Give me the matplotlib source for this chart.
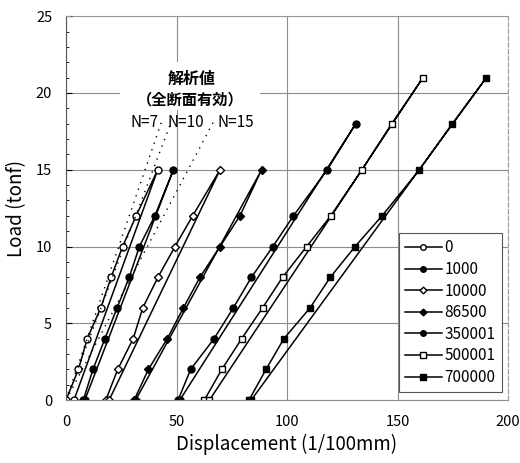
import numpy as np
import matplotlib.pyplot as plt
from matplotlib.patches import Rectangle

plt.rcParams['font.family'] = ['Noto Sans CJK JP', 'DejaVu Sans']

# load steps (tonf)
load_15 = [0, 2, 4, 6, 8, 10, 12, 15]
load_18 = [0, 2, 4, 6, 8, 10, 12, 15, 18]
load_21 = [0, 2, 4, 6, 8, 10, 12, 15, 18, 21]

# displacement on loading (1/100mm) and residual after unloading
disp_0 = [0, 5.6, 9.6, 15.7, 20.4, 25.6, 31.7, 41.5]
disp_1000 = [7.8, 12.2, 17.6, 23.1, 28.6, 33.2, 40.2, 48.6]
disp_10000 = [18.0, 23.4, 30.4, 34.7, 41.6, 49.3, 57.3, 69.7]
disp_86500 = [30.8, 37.3, 45.8, 53.1, 60.6, 69.7, 78.7, 88.5]
disp_350001 = [50.7, 56.4, 67.0, 75.7, 83.9, 93.6, 102.9, 118.2, 131.1]
disp_500001 = [62.6, 70.5, 79.5, 88.9, 98.0, 108.9, 119.8, 133.9, 147.4, 161.5]
disp_700000 = [82.8, 90.5, 98.6, 110.4, 119.6, 130.8, 143.0, 159.9, 174.8, 190.2]
residual = [3.6, 8.5, 19.5, 31.5, 51.5, 64.9, 83.8]

cycles = ['0', '1000', '10000', '86500', '350001', '500001', '700000']

# analytical stiffness lines (full section effective)
n_labels = ['N=7', 'N=10', 'N=15']
n_disp_top = [43.4, 47.8, 67.0]
n_load_top = 18.2

series = [
    (disp_0, load_15, 'o', 'white'),
    (disp_1000, load_15, 'o', 'black'),
    (disp_10000, load_15, 'D', 'white'),
    (disp_86500, load_15, 'D', 'black'),
    (disp_350001, load_18, 'o', 'black'),
    (disp_500001, load_21, 's', 'white'),
    (disp_700000, load_21, 's', 'black'),
]

fig = plt.figure(figsize=(5.2, 4.63), dpi=100)
ax = fig.add_axes([0.127, 0.136, 0.85, 0.829])

for (d, p, m, fc), r, lab in zip(series, residual, cycles):
    xs = list(d) + [r]
    ys = list(p) + [0]
    ms = 4.3 if m == 'D' else 5.0
    ax.plot(xs, ys, color='black', linewidth=1.1, marker=m, markersize=ms,
            markerfacecolor=fc, markeredgecolor='black', markeredgewidth=1.0,
            label=lab)

for xt in n_disp_top:
    ax.plot([0, xt], [0, n_load_top], color='black', linewidth=1.0,
            linestyle=(0, (1, 4)))

# white backing behind the caption
ax.add_patch(Rectangle((24.4, 18.9), 63.4, 3.1, facecolor='white',
                       edgecolor='none', zorder=1))
ax.text(56.9, 20.9, '解析値', ha='center', va='center', fontsize=11.5,
        fontweight='bold', zorder=3)
ax.text(56.3, 19.55, '（全断面有効）', ha='center', va='center', fontsize=11,
        fontweight='bold', zorder=3)
for lab, xc in zip(n_labels, [35.6, 54.0, 77.0]):
    ax.text(xc, 18.07, lab, ha='center', va='center', fontsize=11, zorder=3)

ax.set_xlim(0, 200)
ax.set_ylim(0, 25)
ax.set_xticks([0, 50, 100, 150, 200])
ax.set_yticks([0, 5, 10, 15, 20, 25])
ax.set_yticks(np.arange(0, 26, 1), minor=True)
ax.tick_params(axis='x', length=0, labelsize=10.5, pad=11)
ax.tick_params(axis='y', which='major', direction='in', length=4, labelsize=10.5, pad=10)
ax.tick_params(axis='y', which='minor', direction='in', length=2.5)

ax.grid(True, color='#8c8c8c', linewidth=0.8)
ax.set_axisbelow(True)
for s in ['top', 'right']:
    ax.spines[s].set_color('#9a9a9a')
    ax.spines[s].set_linestyle((0, (4, 2)))
    ax.spines[s].set_linewidth(0.8)
ax.spines['bottom'].set_color('#8c8c8c')
ax.spines['left'].set_color('#555555')

ax.set_xlabel('Displacement (1/100mm)', fontsize=13.5, labelpad=3)
ax.set_ylabel('Load (tonf)', fontsize=13.5, labelpad=6)

leg = ax.legend(loc='lower right', bbox_to_anchor=(0.986, 0.021), fontsize=11,
                handlelength=2.4, handletextpad=0.2, labelspacing=0.3,
                borderpad=0.4, borderaxespad=0, markerscale=0.8,
                fancybox=False, framealpha=1, edgecolor='#555555')
leg.get_frame().set_linewidth(0.8)

plt.savefig('out.png', dpi=100)
